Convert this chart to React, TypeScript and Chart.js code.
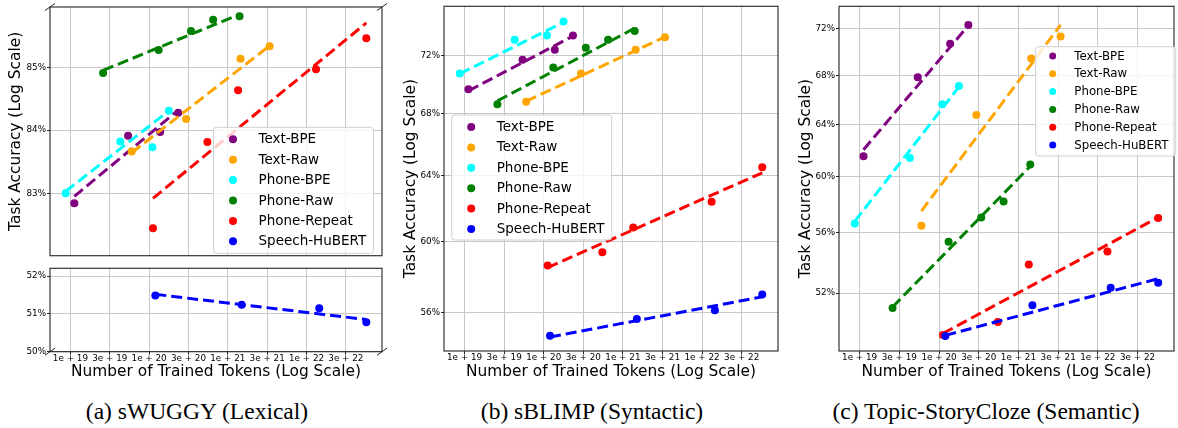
import React, { useEffect, useRef } from 'react';
import { Chart, registerables } from 'chart.js';
Chart.register(...registerables);

const FONT = "'DejaVu Sans', sans-serif";
Chart.defaults.font.family = FONT;

const seriesNames = ['Text-BPE', 'Text-Raw', 'Phone-BPE', 'Phone-Raw', 'Phone-Repeat', 'Speech-HuBERT'];
const seriesColors = ['#800080', '#ffa500', '#00ffff', '#008000', '#ff0000', '#0000ff'];

// x axis: number of trained tokens (log scale), ticks every half decade
const xTickExponents = [19, 19.5, 20, 20.5, 21, 21.5, 22, 22.5];
const xMinTokens = 5.5e18;
const xMaxTokens = 9.1e22;

// trained tokens per model checkpoint
const tokensTextBPE = [1.12e19, 5.4e19, 1.38e20, 2.34e20];
const tokensTextRaw = [6.0e19, 2.95e20, 1.45e21, 3.4e21];
const tokensPhoneBPE = [8.7e18, 4.3e19, 1.1e20, 1.78e20];
const tokensPhoneRaw = [2.6e19, 1.32e20, 3.4e20, 6.5e20, 1.41e21];
const tokensPhoneRepeat = [1.12e20, 5.5e20, 1.35e21, 1.32e22, 5.75e22];
const tokensHuBERT = [1.2e20, 1.5e21, 1.45e22, 5.75e22];
const tokenSets = [tokensTextBPE, tokensTextRaw, tokensPhoneBPE, tokensPhoneRaw, tokensPhoneRepeat, tokensHuBERT];

// (a) sWUGGY accuracy (%) and fitted-line end values
const swuggyTicksUpper = [83, 84, 85];
const swuggyTicksLower = [50, 51, 52];
const swuggyTextBPE = [82.84, 83.91, 83.97, 84.28];
const swuggyTextRaw = [83.66, 84.18, 85.15, 85.35];
const swuggyPhoneBPE = [83.0, 83.82, 83.73, 84.31];
const swuggyPhoneRaw = [84.92, 85.29, 85.6, 85.78, 85.84];
const swuggyPhoneRepeat = [82.45, 83.81, 84.64, 84.98, 85.48];
const swuggyHuBERT = [51.48, 51.23, 51.14, 50.77];
const swuggyFitTextBPE = [82.95, 84.32];
const swuggyFitTextRaw = [83.64, 85.36];
const swuggyFitPhoneBPE = [83.03, 84.31];
const swuggyFitPhoneRaw = [84.96, 85.87];
const swuggyFitPhoneRepeat = [82.92, 85.73];
const swuggyFitHuBERT = [51.51, 50.84];

// (b) sBLIMP
const sblimpTicks = [56, 60, 64, 68, 72];
const sblimpTextBPE = [69.64, 71.69, 72.39, 73.41];
const sblimpTextRaw = [68.81, 70.73, 72.39, 73.27];
const sblimpPhoneBPE = [70.73, 73.1, 73.41, 74.41];
const sblimpPhoneRaw = [68.63, 71.14, 72.53, 73.1, 73.72];
const sblimpPhoneRepeat = [58.63, 59.39, 60.85, 62.39, 64.54];
const sblimpHuBERT = [54.74, 55.64, 56.12, 56.99];
const sblimpFitTextBPE = [69.54, 73.36];
const sblimpFitTextRaw = [68.84, 73.3];
const sblimpFitPhoneBPE = [70.71, 74.36];
const sblimpFitPhoneRaw = [68.86, 73.93];
const sblimpFitPhoneRepeat = [58.51, 64.19];
const sblimpFitHuBERT = [54.67, 56.86];

// (c) Topic-StoryCloze
const clozeTicks = [52, 56, 60, 64, 68, 72];
const clozeTextBPE = [61.54, 67.84, 70.69, 72.35];
const clozeTextRaw = [56.49, 64.76, 69.41, 71.33];
const clozePhoneBPE = [56.65, 61.42, 65.61, 67.1];
const clozePhoneRaw = [51.05, 55.4, 57.07, 58.2, 60.92];
const clozePhoneRepeat = [49.38, 50.18, 53.86, 54.74, 57.03];
const clozeHuBERT = [49.32, 51.22, 52.35, 52.67];
const clozeFitTextBPE = [62.04, 72.3];
const clozeFitTextRaw = [57.53, 72.35];
const clozeFitPhoneBPE = [56.8, 67.04];
const clozeFitPhoneRaw = [51.12, 60.79];
const clozeFitPhoneRepeat = [49.48, 57.08];
const clozeFitHuBERT = [49.36, 52.93];

const GRID = '#c8c8c8';
const SPINE = '#222';
const Y_TITLE = 'Task Accuracy (Log Scale)';
const X_TITLE = 'Number of Trained Tokens (Log Scale)';

type Item = { idx: number; acc: number[]; fit: number[] };
type LegendCfg = { x: number; y: number; w: number; h: number; font: number; row0: number; gap: number; markerX: number; textX: number; r: number };
type PanelCfg = {
  left: number; top: number; width: number; height: number;
  padTop: number; padRight: number; yWidth: number; xHeight: number;
  yMin: number; yMax: number; yTicks: number[];
  xLabels: boolean; xTickMarks: boolean; yTitle: string; yTitlePad: number;
  items: Item[]; legend?: LegendCfg; breaks?: 'top' | 'bottom';
};

function fmtTokens(v: number): string {
  const e = Math.floor(Math.log10(v) + 1e-9);
  const m = Math.round(v / Math.pow(10, e));
  return `${m}e + ${e}`;
}

function buildChart(canvas: HTMLCanvasElement, cfg: PanelCfg) {
  const datasets: any[] = [];
  let k = 0;
  cfg.items.forEach((it) => {
    const xs = tokenSets[it.idx];
    const color = seriesColors[it.idx];
    datasets.push({
      label: seriesNames[it.idx],
      data: xs.map((x, i) => ({ x, y: it.acc[i] })),
      showLine: false,
      pointRadius: 4,
      pointBorderWidth: 0,
      backgroundColor: color,
      borderColor: color,
      order: 100 - k++,
    });
    datasets.push({
      label: seriesNames[it.idx] + ' fit',
      data: [
        { x: xs[0], y: it.fit[0] },
        { x: xs[xs.length - 1], y: it.fit[1] },
      ],
      showLine: true,
      borderColor: color,
      backgroundColor: color,
      borderWidth: 3,
      borderDash: [11, 5],
      borderCapStyle: 'butt',
      pointRadius: 0,
      fill: false,
      order: 100 - k++,
    });
  });

  const frame = {
    id: 'frame',
    afterDatasetsDraw(chart: any) {
      const { ctx, chartArea: a } = chart;
      ctx.save();
      ctx.strokeStyle = SPINE;
      ctx.lineWidth = 1.1;
      ctx.strokeRect(a.left, a.top, a.right - a.left, a.bottom - a.top);
      if (cfg.breaks) {
        const y = cfg.breaks === 'top' ? a.top : a.bottom;
        ctx.lineWidth = 1;
        [a.left, a.right].forEach((x: number) => {
          ctx.beginPath();
          ctx.moveTo(x - 5, y + 3.5);
          ctx.lineTo(x + 5, y - 3.5);
          ctx.stroke();
        });
      }
      ctx.restore();
    },
    afterDraw(chart: any) {
      const L = cfg.legend;
      if (!L) return;
      const { ctx } = chart;
      const x = L.x - cfg.left;
      const y = L.y - cfg.top;
      ctx.save();
      ctx.beginPath();
      const r = 3;
      ctx.moveTo(x + r, y);
      ctx.lineTo(x + L.w - r, y);
      ctx.quadraticCurveTo(x + L.w, y, x + L.w, y + r);
      ctx.lineTo(x + L.w, y + L.h - r);
      ctx.quadraticCurveTo(x + L.w, y + L.h, x + L.w - r, y + L.h);
      ctx.lineTo(x + r, y + L.h);
      ctx.quadraticCurveTo(x, y + L.h, x, y + L.h - r);
      ctx.lineTo(x, y + r);
      ctx.quadraticCurveTo(x, y, x + r, y);
      ctx.closePath();
      ctx.fillStyle = 'rgba(255,255,255,0.8)';
      ctx.fill();
      ctx.strokeStyle = '#d0d0d0';
      ctx.lineWidth = 1;
      ctx.stroke();
      ctx.font = `${L.font}px ${FONT}`;
      ctx.textBaseline = 'middle';
      ctx.textAlign = 'left';
      seriesNames.forEach((name, i) => {
        const cy = y + L.row0 + i * L.gap;
        ctx.beginPath();
        ctx.arc(x + L.markerX, cy, L.r, 0, Math.PI * 2);
        ctx.fillStyle = seriesColors[i];
        ctx.fill();
        ctx.fillStyle = '#000';
        ctx.fillText(name, x + L.textX, cy + 0.5);
      });
      ctx.restore();
    },
  };

  return new Chart(canvas, {
    type: 'scatter',
    data: { datasets },
    plugins: [frame],
    options: {
      responsive: false,
      animation: false,
      events: [],
      layout: { padding: { left: 0, top: cfg.padTop, right: cfg.padRight, bottom: 0 } },
      plugins: { legend: { display: false }, tooltip: { enabled: false } },
      scales: {
        x: {
          type: 'logarithmic',
          min: xMinTokens,
          max: xMaxTokens,
          afterBuildTicks: (s: any) => {
            s.ticks = xTickExponents.map((e) => ({ value: Math.pow(10, e) }));
          },
          afterFit: (s: any) => {
            s.height = cfg.xHeight;
          },
          grid: { color: GRID, lineWidth: 1, drawTicks: cfg.xTickMarks, tickLength: 3, tickColor: SPINE },
          border: { display: false },
          ticks: {
            display: cfg.xLabels,
            autoSkip: false,
            maxRotation: 0,
            padding: -1.5,
            color: '#000',
            font: { size: 8.8, family: FONT },
            callback: (v: any) => fmtTokens(Number(v)),
          },
          title: {
            display: cfg.xLabels,
            text: X_TITLE,
            color: '#000',
            font: { size: 15.4, family: FONT },
            padding: { top: 0, bottom: 0.8 },
          },
        },
        y: {
          type: 'logarithmic',
          min: cfg.yMin,
          max: cfg.yMax,
          afterBuildTicks: (s: any) => {
            s.ticks = cfg.yTicks.map((v) => ({ value: v }));
          },
          afterFit: (s: any) => {
            s.width = cfg.yWidth;
          },
          grid: { color: GRID, lineWidth: 1, drawTicks: true, tickLength: 3, tickColor: SPINE },
          border: { display: false },
          ticks: {
            padding: 1,
            color: '#000',
            font: { size: 8.8, family: FONT },
            callback: (v: any) => `${Number(v)}%`,
          },
          title: {
            display: cfg.yTitle !== '',
            text: cfg.yTitle,
            color: '#000',
            font: { size: 15.4, family: FONT },
            padding: { top: cfg.yTitlePad, bottom: 0 },
          },
        },
      },
    } as any,
  });
}

const legendAB = { w: 160, h: 126, font: 13.5, row0: 12, gap: 20.4, markerX: 19.5, textX: 45, r: 4 };

const panels: PanelCfg[] = [
  {
    left: 0, top: 0, width: 390, height: 262,
    padTop: 7, padRight: 8, yWidth: 50, xHeight: 2,
    yMin: 82.02, yMax: 85.99, yTicks: swuggyTicksUpper,
    xLabels: false, xTickMarks: false, yTitle: Y_TITLE, yTitlePad: 7,
    items: [
      { idx: 0, acc: swuggyTextBPE, fit: swuggyFitTextBPE },
      { idx: 1, acc: swuggyTextRaw, fit: swuggyFitTextRaw },
      { idx: 2, acc: swuggyPhoneBPE, fit: swuggyFitPhoneBPE },
      { idx: 3, acc: swuggyPhoneRaw, fit: swuggyFitPhoneRaw },
      { idx: 4, acc: swuggyPhoneRepeat, fit: swuggyFitPhoneRepeat },
    ],
    legend: { ...legendAB, x: 213.5, y: 127.3 },
    breaks: 'top',
  },
  {
    left: 0, top: 262, width: 390, height: 120,
    padTop: 5, padRight: 8, yWidth: 50, xHeight: 30.3,
    yMin: 50, yMax: 52.21, yTicks: swuggyTicksLower,
    xLabels: true, xTickMarks: true, yTitle: '', yTitlePad: 0,
    items: [{ idx: 5, acc: swuggyHuBERT, fit: swuggyFitHuBERT }],
    breaks: 'bottom',
  },
  {
    left: 390, top: 0, width: 392, height: 382,
    padTop: 4, padRight: 1, yWidth: 54, xHeight: 31,
    yMin: 53.93, yMax: 75.53, yTicks: sblimpTicks,
    xLabels: true, xTickMarks: true, yTitle: Y_TITLE, yTitlePad: 11.8,
    items: [
      { idx: 0, acc: sblimpTextBPE, fit: sblimpFitTextBPE },
      { idx: 1, acc: sblimpTextRaw, fit: sblimpFitTextRaw },
      { idx: 2, acc: sblimpPhoneBPE, fit: sblimpFitPhoneBPE },
      { idx: 3, acc: sblimpPhoneRaw, fit: sblimpFitPhoneRaw },
      { idx: 4, acc: sblimpPhoneRepeat, fit: sblimpFitPhoneRepeat },
      { idx: 5, acc: sblimpHuBERT, fit: sblimpFitHuBERT },
    ],
    legend: { ...legendAB, x: 451.7, y: 115, h: 125 },
  },
  {
    left: 785, top: 0, width: 393, height: 382,
    padTop: 4, padRight: 3, yWidth: 54, xHeight: 31,
    yMin: 48.42, yMax: 74.03, yTicks: clozeTicks,
    xLabels: true, xTickMarks: true, yTitle: Y_TITLE, yTitlePad: 11.8,
    items: [
      { idx: 0, acc: clozeTextBPE, fit: clozeFitTextBPE },
      { idx: 1, acc: clozeTextRaw, fit: clozeFitTextRaw },
      { idx: 2, acc: clozePhoneBPE, fit: clozeFitPhoneBPE },
      { idx: 3, acc: clozePhoneRaw, fit: clozeFitPhoneRaw },
      { idx: 4, acc: clozePhoneRepeat, fit: clozeFitPhoneRepeat },
      { idx: 5, acc: clozeHuBERT, fit: clozeFitHuBERT },
    ],
    legend: { x: 1035.7, y: 46.7, w: 140, h: 109.3, font: 11.8, row0: 9.3, gap: 17.8, markerX: 17, textX: 38.6, r: 3.5 },
  },
];

const captions = [
  { text: '(a) sWUGGY (Lexical)', cx: 197 },
  { text: '(b) sBLIMP (Syntactic)', cx: 592 },
  { text: '(c) Topic-StoryCloze (Semantic)', cx: 986 },
];

function Panel({ cfg }: { cfg: PanelCfg }) {
  const ref = useRef<HTMLCanvasElement>(null);
  useEffect(() => {
    const chart = buildChart(ref.current as HTMLCanvasElement, cfg);
    return () => chart.destroy();
  }, [cfg]);
  return (
    <canvas
      ref={ref}
      width={cfg.width}
      height={cfg.height}
      style={{ position: 'absolute', left: cfg.left, top: cfg.top, width: cfg.width, height: cfg.height }}
    />
  );
}

export default function App() {
  return (
    <div style={{ position: 'absolute', left: 0, top: 0, width: 1178, height: 428, background: '#fff', overflow: 'hidden' }}>
      {panels.map((p, i) => (
        <Panel key={i} cfg={p} />
      ))}
      {captions.map((c, i) => (
        <div
          key={i}
          style={{
            position: 'absolute',
            left: c.cx - 250,
            width: 500,
            top: 397,
            lineHeight: '28px',
            textAlign: 'center',
            fontFamily: "'Liberation Serif', 'Times New Roman', serif",
            fontSize: 23.5,
            color: '#000',
          }}
        >
          {c.text}
        </div>
      ))}
    </div>
  );
}
